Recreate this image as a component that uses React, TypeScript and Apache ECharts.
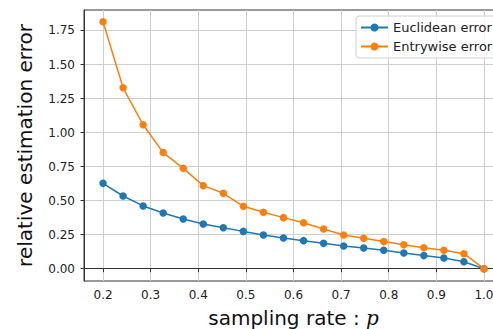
import React, { useEffect, useRef } from "react";
import * as echarts from "echarts";

const samplingRates = [
  0.2, 0.2421, 0.2842, 0.3263, 0.3684, 0.4105, 0.4526, 0.4947, 0.5368, 0.5789,
  0.6211, 0.6632, 0.7053, 0.7474, 0.7895, 0.8316, 0.8737, 0.9158, 0.9579, 1.0,
];
const euclideanError = [
  0.627, 0.534, 0.461, 0.409, 0.365, 0.328, 0.301, 0.274, 0.248, 0.226,
  0.206, 0.186, 0.167, 0.152, 0.135, 0.115, 0.096, 0.079, 0.051, 0.0,
];
const entrywiseError = [
  1.814, 1.329, 1.057, 0.853, 0.737, 0.61, 0.554, 0.458, 0.414, 0.375,
  0.338, 0.292, 0.248, 0.223, 0.199, 0.176, 0.154, 0.135, 0.11, 0.0,
];
const xTicks = [0.2, 0.3, 0.4, 0.5, 0.6, 0.7, 0.8, 0.9, 1.0];
const yTicks = [0, 0.25, 0.5, 0.75, 1.0, 1.25, 1.5, 1.75];

export default function App() {
  const ref = useRef<HTMLDivElement>(null);
  useEffect(() => {
    document.body.style.margin = "0";
    const chart = echarts.init(ref.current!, null, { renderer: "svg" });
    const font = "DejaVu Sans";
    const series = [
      { name: "Euclidean error", data: euclideanError, color: "#1f77b4" },
      { name: "Entrywise error", data: entrywiseError, color: "#ff7f0e" },
    ];
    chart.setOption({
      animation: false,
      textStyle: { fontFamily: font },
      grid: {
        left: 84,
        top: 10,
        right: -10,
        bottom: 48,
        outerBoundsMode: "none",
        containLabel: false,
        show: true,
        borderColor: "#333",
        borderWidth: 1,
        backgroundColor: "transparent",
      },
      legend: {
        left: 356,
        top: 16,
        orient: "vertical",
        itemWidth: 27,
        itemHeight: 10,
        itemGap: 6,
        itemTextGap: 8,
        padding: [5, 8, 5, 4],
        backgroundColor: "rgba(255,255,255,0.8)",
        borderColor: "#d0d0d0",
        borderWidth: 1,
        borderRadius: 3,
        textStyle: { fontFamily: font, fontSize: 13, color: "#222" },
        data: series.map((s) => s.name),
      },
      xAxis: {
        type: "value",
        min: 0.16,
        max: 1.04,
        name: "{a|sampling rate : }{p|p}",
        nameLocation: "middle",
        nameGap: 27,
        nameTextStyle: {
          rich: {
            a: { fontFamily: font, fontSize: 20, color: "#111" },
            p: {
              fontFamily: "DejaVu Serif",
              fontStyle: "italic",
              fontSize: 20,
              color: "#111",
            },
          },
        },
        axisLine: { show: true, lineStyle: { color: "#333", width: 1 } },
        axisTick: {
          show: true,
          length: 3.5,
          customValues: xTicks,
          lineStyle: { color: "#333" },
        },
        axisLabel: {
          customValues: xTicks,
          margin: 8,
          fontSize: 12,
          color: "#222",
          fontFamily: font,
          formatter: (v: number) => v.toFixed(1),
        },
        splitLine: { show: true, lineStyle: { color: "#cfcfcf", width: 1 } },
      },
      yAxis: {
        type: "value",
        min: -0.0905,
        max: 1.9005,
        name: "relative estimation error",
        nameLocation: "middle",
        nameGap: 49,
        nameTextStyle: { fontFamily: font, fontSize: 20, color: "#111" },
        axisLine: { show: true, lineStyle: { color: "#333", width: 1 } },
        axisTick: {
          show: true,
          length: 3.5,
          customValues: yTicks,
          lineStyle: { color: "#333" },
        },
        axisLabel: {
          customValues: yTicks,
          margin: 9,
          fontSize: 12,
          color: "#222",
          fontFamily: font,
          formatter: (v: number) => v.toFixed(2),
        },
        splitLine: { show: true, lineStyle: { color: "#cfcfcf", width: 1 } },
      },
      series: series.map((s) => ({
        name: s.name,
        type: "line",
        data: samplingRates.map((x, i) => [x, s.data[i]]),
        symbol: "circle",
        symbolSize: 7.5,
        color: s.color,
        lineStyle: { width: 1.5, color: s.color },
        itemStyle: { color: s.color },
      })),
    });
    return () => chart.dispose();
  }, []);
  return <div ref={ref} style={{ width: 493, height: 329 }} />;
}
